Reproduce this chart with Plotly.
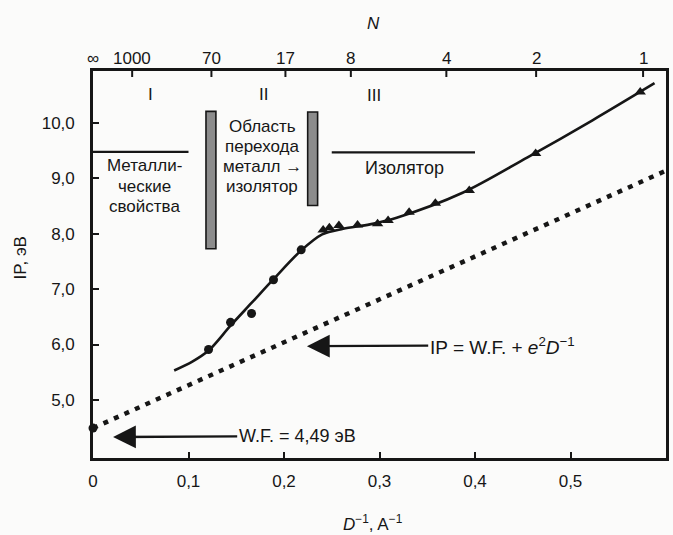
import plotly.graph_objects as go

# Inverse cluster diameter D^-1 (1/A) versus ionisation potential IP (eV)
wf_D = [0.0]
wf_IP = [4.49]

metal_D = [0.121, 0.144, 0.166, 0.189, 0.218]
metal_IP = [5.91, 6.40, 6.56, 7.17, 7.71]

insul_D = [0.241, 0.2475, 0.2575, 0.277, 0.298, 0.309, 0.331, 0.3585, 0.394, 0.4635, 0.573]
insul_IP = [8.07, 8.11, 8.15, 8.16, 8.18, 8.24, 8.39, 8.55, 8.78, 9.45, 10.56]

# smooth guide curve through the measurements
curve_D = [0.085, 0.104, 0.121, 0.144, 0.166, 0.189, 0.218, 0.240, 0.262, 0.290, 0.318,
           0.387, 0.455, 0.523, 0.588]
curve_IP = [5.53, 5.69, 5.89, 6.34, 6.75, 7.18, 7.70, 7.99, 8.09, 8.17, 8.29,
            8.74, 9.38, 10.05, 10.72]

# classical conducting-sphere estimate IP = W.F. + e^2 D^-1
model_D = [0.0, 0.6]
model_IP = [4.49, 9.14]

# top scale: number of atoms N in the cluster
n_pos = [0.0, 0.041, 0.124, 0.2015, 0.270, 0.370, 0.464, 0.576]
n_text = ["∞", "1000", "70", "17", "8", "4", "2", "1"]

x_ticks = [0.0, 0.1, 0.2, 0.3, 0.4, 0.5]
x_text = ["0", "0,1", "0,2", "0,3", "0,4", "0,5"]
y_ticks = [5, 6, 7, 8, 9, 10]
y_text = ["5,0", "6,0", "7,0", "8,0", "9,0", "10,0"]

# region boundaries (grey bars) and region rules
bar_D = [0.1235, 0.230]
bar_low = [7.73, 8.51]
bar_high = [10.21, 10.20]
rule_D0 = [0.0, 0.25]
rule_D1 = [0.10, 0.40]
rule_IP = [9.48, 9.47]

INK = "#161616"
FONT = "Liberation Sans, Arial, sans-serif"
PLOT_H = 387

fig = go.Figure()

fig.add_trace(go.Scatter(
    x=model_D, y=model_IP, mode="lines",
    line=dict(color=INK, width=4.5, dash="5px,6.5px"),
    hoverinfo="skip", showlegend=False))

fig.add_trace(go.Scatter(
    x=curve_D, y=curve_IP, mode="lines",
    line=dict(color=INK, width=2.6, shape="spline", smoothing=0.9),
    hoverinfo="skip", showlegend=False))

fig.add_trace(go.Scatter(
    x=metal_D + wf_D, y=metal_IP + wf_IP, mode="markers",
    marker=dict(symbol="circle", size=9, color=INK),
    showlegend=False, cliponaxis=False))

fig.add_trace(go.Scatter(
    x=insul_D, y=insul_IP, mode="markers",
    marker=dict(symbol="triangle-up", size=10, color=INK),
    showlegend=False, cliponaxis=False))

shapes = []
half_w = 0.0052
for d, lo, hi in zip(bar_D, bar_low, bar_high):
    shapes.append(dict(type="rect", xref="x", yref="y",
                       x0=d - half_w, x1=d + half_w, y0=lo, y1=hi,
                       fillcolor="#8c8c8c", line=dict(color=INK, width=1.6)))
for d0, d1, ip in zip(rule_D0, rule_D1, rule_IP):
    shapes.append(dict(type="line", xref="x", yref="y",
                       x0=d0, x1=d1, y0=ip, y1=ip,
                       line=dict(color=INK, width=2.4)))
# inward ticks of the N scale on the top frame
for d in n_pos[1:]:
    shapes.append(dict(type="line", xref="x", yref="paper",
                       x0=d, x1=d, y0=1, y1=1 - 6 / PLOT_H,
                       line=dict(color=INK, width=2)))

ann = []


def label(x, y, text, size=18, **kw):
    a = dict(x=x, y=y, xref="x", yref="y", text=text, showarrow=False,
             font=dict(family=FONT, size=size, color=INK))
    a.update(kw)
    ann.append(a)


def block(x, y, lines, size=17, step=20.5):
    # stack lines with a fixed pixel spacing around the block centre
    mid = (len(lines) - 1) / 2
    for i, line in enumerate(lines):
        label(x, y, line, size=size, yshift=(mid - i) * step)


def pointer(tip_x, tip_y, tail_x, tail_y, text, size):
    # label whose left edge carries an arrow to (tip_x, tip_y)
    ann.append(dict(x=tip_x, y=tip_y, ax=tail_x, ay=tail_y, xref="x", yref="y",
                    axref="x", ayref="y", text=text, showarrow=True,
                    xanchor="left", yanchor="middle", standoff=0,
                    arrowhead=2, arrowsize=1.9, arrowwidth=2.4, arrowcolor=INK,
                    font=dict(family=FONT, size=size, color=INK)))


# N scale labels above the top frame
for d, t in zip(n_pos, n_text):
    ann.append(dict(x=d, y=1, xref="x", yref="paper", text=t, showarrow=False,
                    xanchor="center", yanchor="bottom", yshift=1,
                    font=dict(family=FONT, size=17, color=INK)))

label(0.060, 10.52, "I", size=17)
label(0.179, 10.52, "II", size=17)
label(0.294, 10.50, "III", size=17)
block(0.054, 8.86, ["Металли-", "ческие", "свойства"])
block(0.177, 9.40, ["Область", "перехода", "металл →", "изолятор"], step=20)
label(0.326, 9.19, "Изолятор")

# arrows pointing at the work function and at the model line
pointer(0.021, 4.33, 0.151, 4.34, "W.F. = 4,49 эВ", 18)
pointer(0.224, 5.97, 0.351, 5.98,
        "IP = W.F. + <i>e</i><sup>2</sup><i>D</i><sup>−1</sup>", 19)

# axis titles
title_font = dict(family=FONT, size=17, color=INK)
ann.append(dict(x=(374 - 93) / 576, y=-(523 - 458) / PLOT_H, xref="paper", yref="paper",
                text="<i>D</i><sup>−1</sup>, A<sup>−1</sup>", showarrow=False,
                font=title_font, xanchor="center", yanchor="middle"))
ann.append(dict(x=(375 - 93) / 576, y=1 + (71 - 23) / PLOT_H, xref="paper", yref="paper",
                text="<i>N</i>", showarrow=False,
                font=title_font, xanchor="center", yanchor="middle"))
ann.append(dict(x=(20 - 93) / 576, y=(458 - 258) / PLOT_H, xref="paper", yref="paper",
                text="IP, эВ", showarrow=False, textangle=-90,
                font=title_font, xanchor="center", yanchor="middle"))

axis_common = dict(showgrid=False, zeroline=False, linecolor=INK, linewidth=2.6,
                   ticks="inside", ticklen=6, tickwidth=2, tickcolor=INK,
                   tickfont=dict(family=FONT, size=17, color=INK))

fig.update_layout(
    width=673, height=535,
    margin=dict(l=93, r=4, t=71, b=77),
    paper_bgcolor="#fbfbfa", plot_bgcolor="#fbfbfa",
    shapes=shapes, annotations=ann, showlegend=False,
    xaxis=dict(range=[0, 0.6], tickvals=x_ticks, ticktext=x_text,
               showline=True, mirror=True, ticklabelstandoff=6, **axis_common),
    yaxis=dict(range=[3.95, 10.94], tickvals=y_ticks, ticktext=y_text,
               showline=True, mirror=True, ticklabelstandoff=12, **axis_common),
)

fig.write_html("out.html")
